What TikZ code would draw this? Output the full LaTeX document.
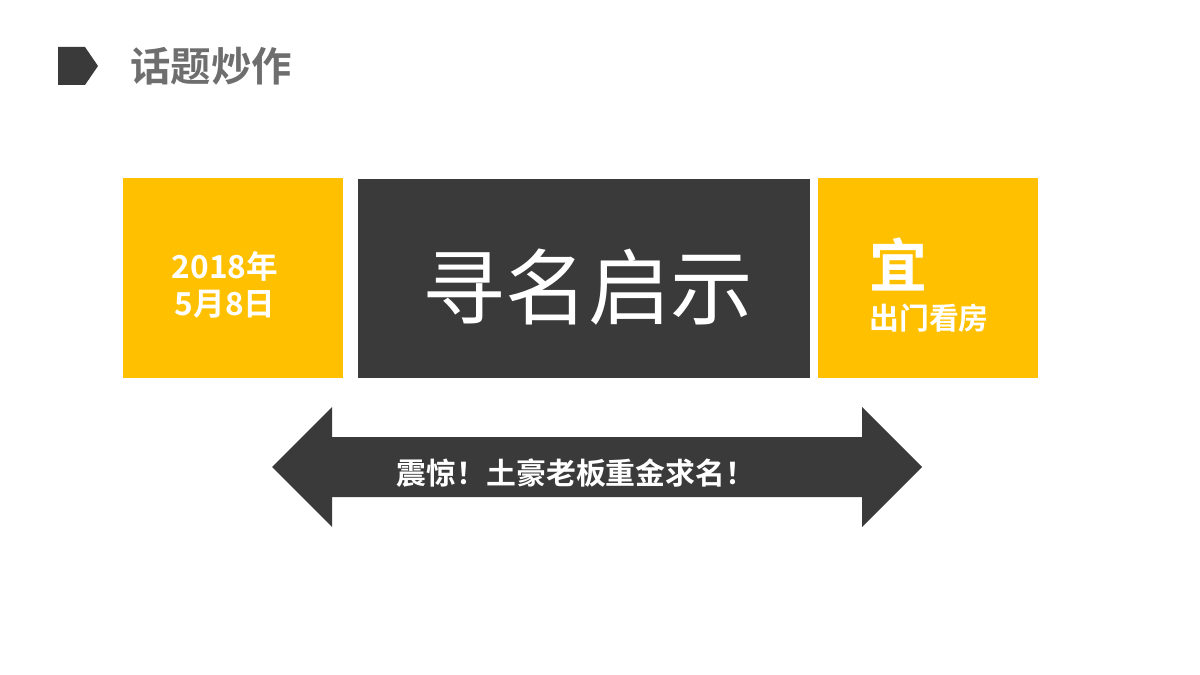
\documentclass[tikz,border=0pt]{standalone}
\usepackage{fontspec}
\newfontfamily\cjk{Noto Sans CJK SC}
\newfontfamily\cjkb{Noto Sans CJK SC Bold}
\definecolor{ylw}{HTML}{FFC000}
\definecolor{drk}{HTML}{3A3A3A}
\definecolor{gry}{HTML}{6E6E6E}
\begin{document}
\begin{tikzpicture}[x=0.02cm,y=-0.02cm,
  wt/.style={text=white,align=center,inner sep=0pt}]
\useasboundingbox (0,0) rectangle (1200,675);
\fill[drk] (58,47) -- (85,47) -- (98,66) -- (85,85) -- (58,85) -- cycle;
\node[anchor=west,text=gry,inner sep=0pt,font=\cjkb\fontsize{23}{26}\selectfont] (title) at (130,66) {话题炒作};
\fill[ylw] (123,178) rectangle (343,378);
\fill[drk] (358,179) rectangle (810,378);
\fill[ylw] (818,178) rectangle (1038,378);
\node[wt,font=\cjkb\fontsize{18}{21}\selectfont] (date) at (225,285) {2018年\\5月8日};
\node[wt,font=\cjk\fontsize{47}{52}\selectfont] (main) at (588,287) {寻名启示};
\node[wt,font=\cjkb\fontsize{33}{36}\selectfont] (yi) at (898,264) {宜};
\node[wt,font=\cjkb\fontsize{17}{20}\selectfont] (go) at (929,318) {出门看房};
\fill[drk] (272,467) -- (332,407) -- (332,437) -- (862,437) -- (862,407) -- (922,467)
  -- (862,527) -- (862,497) -- (332,497) -- (332,527) -- cycle;
\node[wt,font=\cjkb\fontsize{17}{20}\selectfont] (slogan) at (576,473) {震惊！土豪老板重金求名！};
\end{tikzpicture}
\end{document}
